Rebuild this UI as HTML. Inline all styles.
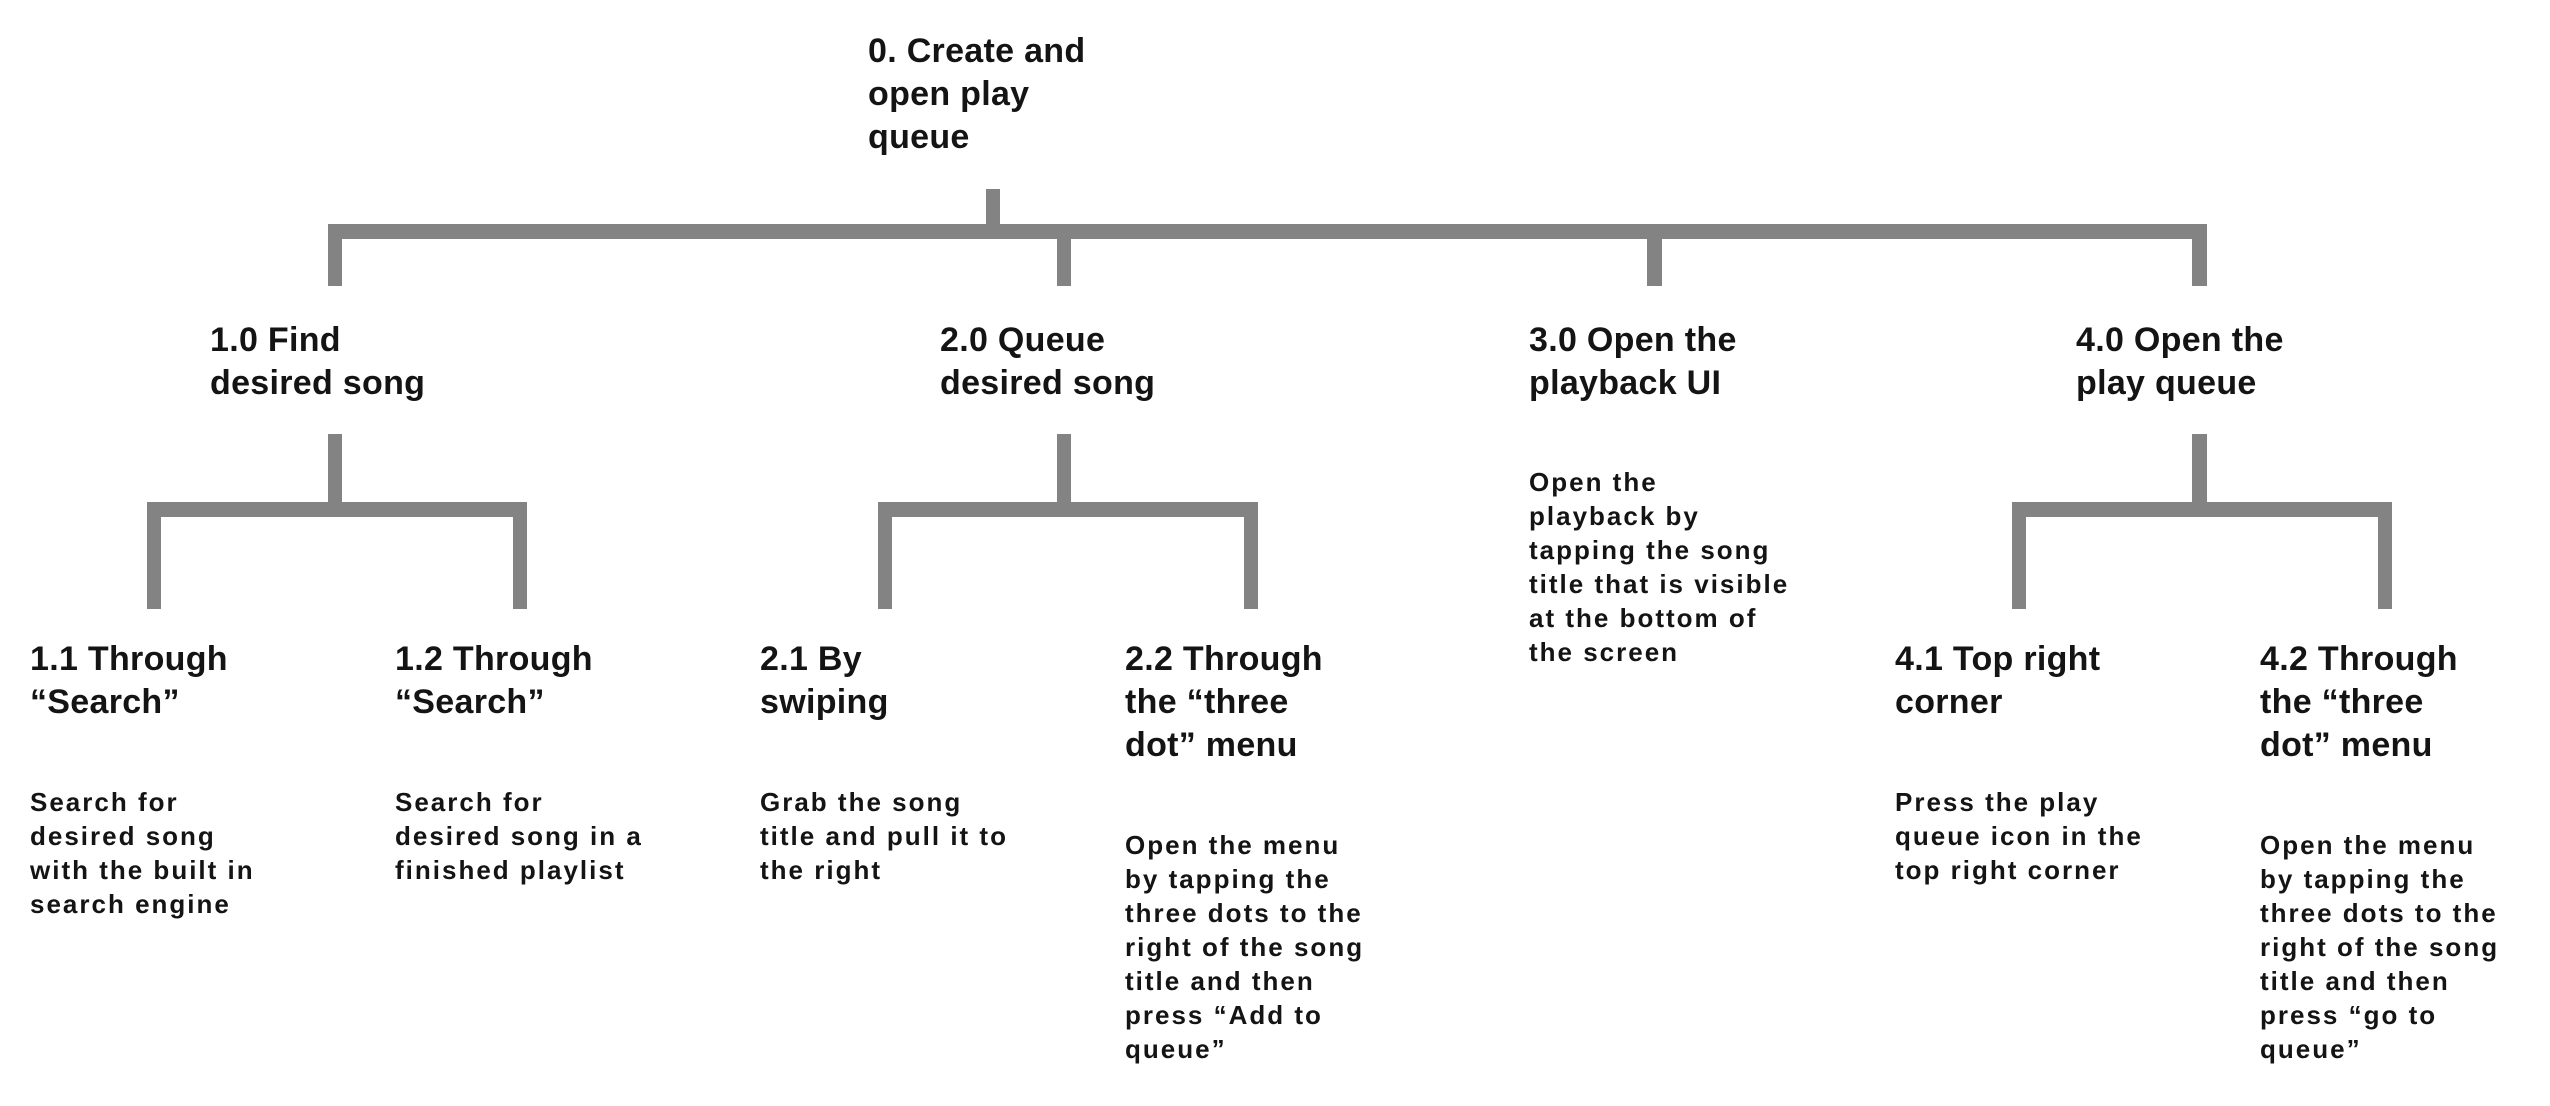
<!DOCTYPE html>
<html><head><meta charset="utf-8"><style>
body{margin:0;width:2550px;height:1106px;background:#fff;position:relative;overflow:hidden;font-family:"Liberation Sans",sans-serif;color:#141414}
.b{position:absolute;background:#838383}
.t{position:absolute;font-size:34px;line-height:43px;font-weight:bold;letter-spacing:0.3px;white-space:nowrap}
.d{position:absolute;font-size:26px;line-height:34px;font-weight:bold;letter-spacing:2px;white-space:nowrap}
</style></head><body>
<div class="b" style="left:986px;top:189px;width:14px;height:40px"></div>
<div class="b" style="left:328px;top:224px;width:1879px;height:15px"></div>
<div class="b" style="left:328px;top:224px;width:14px;height:62px"></div>
<div class="b" style="left:1057px;top:224px;width:14px;height:62px"></div>
<div class="b" style="left:1647px;top:224px;width:15px;height:62px"></div>
<div class="b" style="left:2192px;top:224px;width:15px;height:62px"></div>
<div class="b" style="left:328px;top:434px;width:14px;height:70px"></div>
<div class="b" style="left:147px;top:502px;width:380px;height:15px"></div>
<div class="b" style="left:147px;top:502px;width:14px;height:107px"></div>
<div class="b" style="left:513px;top:502px;width:14px;height:107px"></div>
<div class="b" style="left:1057px;top:434px;width:14px;height:70px"></div>
<div class="b" style="left:878px;top:502px;width:380px;height:15px"></div>
<div class="b" style="left:878px;top:502px;width:14px;height:107px"></div>
<div class="b" style="left:1244px;top:502px;width:14px;height:107px"></div>
<div class="b" style="left:2192px;top:434px;width:15px;height:70px"></div>
<div class="b" style="left:2012px;top:502px;width:380px;height:15px"></div>
<div class="b" style="left:2012px;top:502px;width:14px;height:107px"></div>
<div class="b" style="left:2378px;top:502px;width:14px;height:107px"></div>

<div class="t" style="left:868px;top:30px">0. Create and<br>open play<br>queue</div>
<div class="t" style="left:210px;top:319px">1.0 Find<br>desired song</div>
<div class="t" style="left:940px;top:319px">2.0 Queue<br>desired song</div>
<div class="t" style="left:1529px;top:319px">3.0 Open the<br>playback UI</div>
<div class="t" style="left:2076px;top:319px">4.0 Open the<br>play queue</div>

<div class="d" style="left:1529px;top:465px">Open the<br>playback by<br>tapping the song<br>title that is visible<br>at the bottom of<br>the screen</div>

<div class="t" style="left:30px;top:638px">1.1 Through<br>“Search”</div>
<div class="t" style="left:395px;top:638px">1.2 Through<br>“Search”</div>
<div class="t" style="left:760px;top:638px">2.1 By<br>swiping</div>
<div class="t" style="left:1125px;top:638px">2.2 Through<br>the “three<br>dot” menu</div>
<div class="t" style="left:1895px;top:638px">4.1 Top right<br>corner</div>
<div class="t" style="left:2260px;top:638px">4.2 Through<br>the “three<br>dot” menu</div>

<div class="d" style="left:30px;top:785px">Search for<br>desired song<br>with the built in<br>search engine</div>
<div class="d" style="left:395px;top:785px">Search for<br>desired song in a<br>finished playlist</div>
<div class="d" style="left:760px;top:785px">Grab the song<br>title and pull it to<br>the right</div>
<div class="d" style="left:1125px;top:828px">Open the menu<br>by tapping the<br>three dots to the<br>right of the song<br>title and then<br>press “Add to<br>queue”</div>
<div class="d" style="left:1895px;top:785px">Press the play<br>queue icon in the<br>top right corner</div>
<div class="d" style="left:2260px;top:828px">Open the menu<br>by tapping the<br>three dots to the<br>right of the song<br>title and then<br>press “go to<br>queue”</div>
</body></html>
